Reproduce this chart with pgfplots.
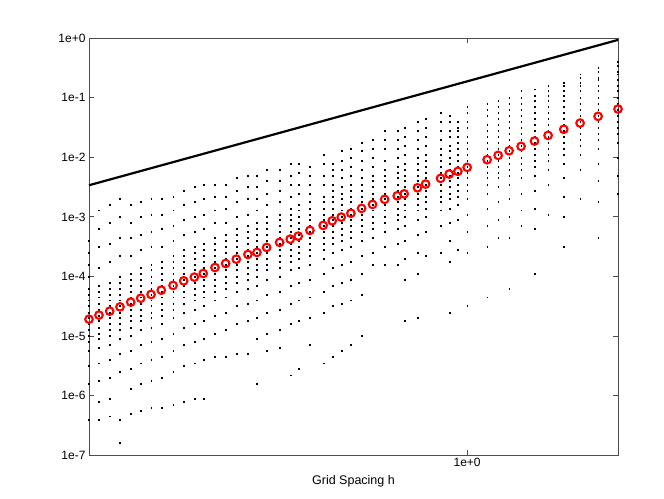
\documentclass[border=0pt]{standalone}
\usepackage{pgfplots}
\pgfplotsset{compat=1.18}
\usepackage{pgfplotstable}
\usepackage{fontspec}
\setmainfont{Liberation Sans}

% scatter of all runs: one row per grid spacing h
\pgfplotstableread{
h y1 y2 y3 y4 y5 y6 y7 y8 y9 y10 y11 y12 y13 y14 y15 y16 y17 y18 y19
0.1341 4e-4 2.5e-4 1.6e-4 1e-4 6.3e-5 5e-5 4e-5 3.2e-5 2.5e-5 2e-5 1.6e-5 1.3e-5 1e-5 7.9e-6 5.6e-6 3.2e-6 1.6e-6 nan 4e-7
0.1414 1.3e-3 6.3e-4 3.2e-4 1.4e-4 7.1e-5 5.6e-5 4.5e-5 3.5e-5 2.8e-5 2.2e-5 1.8e-5 1.4e-5 1.1e-5 8.9e-6 6.3e-6 3.5e-6 1.8e-6 7.9e-7 4e-7
0.1497 1.6e-3 7.9e-4 3.5e-4 1.8e-4 7.9e-5 6.3e-5 5e-5 4e-5 3.2e-5 2.5e-5 2e-5 1.6e-5 1.3e-5 1e-5 7.1e-6 4e-6 2e-6 8.9e-7 4.5e-7
0.1581 2e-3 1e-3 4.5e-4 2.2e-4 1e-4 7.9e-5 6.3e-5 5e-5 4e-5 3.2e-5 2.5e-5 2e-5 1.6e-5 1.3e-5 8.9e-6 5e-6 2.5e-6 4e-7 1.6e-7
0.1674 1.6e-3 7.9e-4 4.5e-4 2.2e-4 1.1e-4 8.9e-5 7.1e-5 5.6e-5 4.5e-5 3.5e-5 2.8e-5 2.2e-5 1.8e-5 1.4e-5 1e-5 5.6e-6 2.8e-6 1.3e-6 5e-7
0.1765 1.8e-3 1e-3 5e-4 2.8e-4 1.4e-4 1.1e-4 8.9e-5 7.1e-5 5.6e-5 4.5e-5 3.5e-5 2.8e-5 2.2e-5 1.8e-5 1.3e-5 7.1e-6 3.5e-6 1.6e-6 5.6e-7
0.1865 2e-3 1.1e-3 5.6e-4 3.2e-4 1.6e-4 1.3e-4 1e-4 7.9e-5 6.3e-5 5e-5 4e-5 3.2e-5 2.5e-5 2e-5 1.4e-5 7.9e-6 4e-6 1.8e-6 6.3e-7
0.1969 2e-3 1.1e-3 6.3e-4 3.2e-4 1.8e-4 1.4e-4 1.1e-4 8.9e-5 7.1e-5 5.6e-5 4.5e-5 3.5e-5 2.8e-5 2.2e-5 1.6e-5 8.9e-6 4.5e-6 2e-6 6.3e-7
0.2096 2.2e-3 1.3e-3 7.1e-4 4e-4 2.2e-4 1.8e-4 1.4e-4 1.1e-4 8.9e-5 7.1e-5 5.6e-5 4.5e-5 3.5e-5 2.8e-5 2e-5 1.1e-5 5.6e-6 2.5e-6 7.1e-7
0.2218 2.8e-3 1.6e-3 8.9e-4 5e-4 2.8e-4 2.2e-4 1.8e-4 1.4e-4 1.1e-4 8.9e-5 7.1e-5 5.6e-5 4.5e-5 3.5e-5 2.5e-5 1.4e-5 7.1e-6 3.2e-6 7.9e-7
0.2347 3.2e-3 1.8e-3 1e-3 5.6e-4 3.2e-4 2.5e-4 2e-4 1.6e-4 1.3e-4 1e-4 7.9e-5 6.3e-5 5e-5 4e-5 2.8e-5 1.6e-5 7.9e-6 3.5e-6 8.9e-7
0.2460 3.5e-3 2e-3 1.1e-3 6.3e-4 3.5e-4 2.8e-4 2.2e-4 1.8e-4 1.4e-4 1.1e-4 8.9e-5 7.1e-5 5.6e-5 4.5e-5 3.2e-5 1.8e-5 8.9e-6 4e-6 8.9e-7
0.2619 3.5e-3 2.2e-3 1.3e-3 7.9e-4 4.5e-4 3.5e-4 2.8e-4 2.2e-4 1.8e-4 1.4e-4 1.1e-4 8.9e-5 7.1e-5 5.6e-5 4e-5 2.2e-5 1.1e-5 nan 4.5e-6
0.2772 3.5e-3 2.2e-3 1.4e-3 7.9e-4 5e-4 4e-4 3.2e-4 2.5e-4 2e-4 1.6e-4 1.3e-4 1e-4 7.9e-5 6.3e-5 4.5e-5 2.5e-5 1.3e-5 nan 4.5e-6
0.2933 4.5e-3 2.8e-3 1.8e-3 1e-3 6.3e-4 5e-4 4e-4 3.2e-4 2.5e-4 2e-4 1.6e-4 1.3e-4 1e-4 7.9e-5 5.6e-5 3.2e-5 1.6e-5 nan 5e-6
0.3120 5e-3 3.2e-3 2e-3 1.1e-3 7.1e-4 5.6e-4 4.5e-4 3.5e-4 2.8e-4 2.2e-4 1.8e-4 1.4e-4 1.1e-4 8.9e-5 6.3e-5 3.5e-5 1.8e-5 nan 5e-6
0.3273 5e-3 3.2e-3 2e-3 1.3e-3 7.9e-4 6.3e-4 5e-4 4e-4 3.2e-4 2.5e-4 2e-4 1.6e-4 1.3e-4 1e-4 7.1e-5 4e-5 2e-5 8.9e-6 1.6e-6
0.3446 6.3e-3 4e-3 2.5e-3 1.6e-3 1e-3 7.9e-4 6.3e-4 5e-4 4e-4 3.2e-4 2.5e-4 2e-4 1.6e-4 1.3e-4 8.9e-5 5e-5 2.5e-5 1.1e-5 5.6e-6
0.3693 6.3e-3 4e-3 2.8e-3 1.8e-3 1.1e-3 8.9e-4 7.1e-4 5.6e-4 4.5e-4 3.5e-4 2.8e-4 2.2e-4 1.8e-4 1.4e-4 1e-4 5.6e-5 2.8e-5 1.3e-5 6.3e-6
0.3906 7.9e-3 5e-3 3.5e-3 2.2e-3 1.4e-3 1.1e-3 8.9e-4 7.1e-4 5.6e-4 4.5e-4 3.5e-4 2.8e-4 2.2e-4 1.8e-4 1.3e-4 7.1e-5 3.5e-5 1.6e-5 2.2e-6
0.4076 7.9e-3 5.6e-3 3.5e-3 2.5e-3 1.6e-3 1.3e-3 1e-3 7.9e-4 6.3e-4 5e-4 4e-4 3.2e-4 2.5e-4 2e-4 1.4e-4 7.9e-5 4e-5 1.8e-5 2.8e-6
0.4337 7.1e-3 5e-3 3.5e-3 2.5e-3 1.8e-3 1.4e-3 1.1e-3 8.9e-4 7.1e-4 5.6e-4 4.5e-4 3.5e-4 2.8e-4 2.2e-4 1.6e-4 8.9e-5 4.5e-5 2e-5 7.1e-6
0.4654 1.1e-2 7.9e-3 5e-3 3.5e-3 2.2e-3 1.8e-3 1.4e-3 1.1e-3 8.9e-4 7.1e-4 5.6e-4 4.5e-4 3.5e-4 2.8e-4 2e-4 1.1e-4 5.6e-5 2.5e-5 3.5e-6
0.4883 7.9e-3 6.3e-3 5e-3 3.5e-3 2.8e-3 2.2e-3 1.8e-3 1.4e-3 1.1e-3 8.9e-4 7.1e-4 5.6e-4 4.5e-4 3.5e-4 2.5e-4 1.4e-4 7.1e-5 3.2e-5 4.5e-6
0.5122 1.3e-2 8.9e-3 6.3e-3 4.5e-3 3.2e-3 2.5e-3 2e-3 1.6e-3 1.3e-3 1e-3 7.9e-4 6.3e-4 5e-4 4e-4 2.8e-4 1.6e-4 7.9e-5 3.5e-5 5.6e-6
0.5392 1.4e-2 1e-2 7.1e-3 5e-3 3.5e-3 2.8e-3 2.2e-3 1.8e-3 1.4e-3 1.1e-3 8.9e-4 7.1e-4 5.6e-4 4.5e-4 3.2e-4 1.8e-4 8.9e-5 4e-5 7.1e-6
0.5708 1.8e-2 1.3e-2 8.9e-3 6.3e-3 4.5e-3 3.5e-3 2.8e-3 2.2e-3 1.8e-3 1.4e-3 1.1e-3 8.9e-4 7.1e-4 5.6e-4 4e-4 2.2e-4 1.1e-4 5e-5 1e-5
0.6049 2e-2 1.4e-2 1e-2 7.1e-3 5e-3 4e-3 3.2e-3 2.5e-3 2e-3 1.6e-3 1.3e-3 1e-3 7.9e-4 6.3e-4 4.5e-4 2.5e-4 nan nan 1.6e-4
0.6451 2.8e-2 2e-2 1.4e-2 8.9e-3 6.3e-3 5e-3 4e-3 3.2e-3 2.5e-3 2e-3 1.6e-3 1.3e-3 1e-3 7.9e-4 5.6e-4 3.2e-4 nan nan 1.6e-4
0.6896 2.8e-2 2e-2 1.4e-2 1e-2 7.1e-3 5.6e-3 4.5e-3 3.5e-3 2.8e-3 2.2e-3 1.8e-3 1.4e-3 1.1e-3 8.9e-4 6.3e-4 3.5e-4 nan nan 1.6e-4
0.7157 3.2e-2 2.2e-2 1.6e-2 1.1e-2 7.9e-3 6.3e-3 5e-3 4e-3 3.2e-3 2.5e-3 2e-3 1.6e-3 1.3e-3 1e-3 7.1e-4 4e-4 2e-4 8.9e-5 1.8e-5
0.7683 4e-2 2.8e-2 2e-2 1.4e-2 1e-2 7.9e-3 6.3e-3 5e-3 4e-3 3.2e-3 2.5e-3 2e-3 1.6e-3 1.3e-3 8.9e-4 5e-4 2.5e-4 1.1e-4 2e-5
0.8019 4.5e-2 3.2e-2 2.2e-2 1.6e-2 1.1e-2 8.9e-3 7.1e-3 5.6e-3 4.5e-3 3.5e-3 2.8e-3 2.2e-3 1.8e-3 1.4e-3 1e-3 5.6e-4 nan nan 2.2e-4
0.8683 5.6e-2 4e-2 2.8e-2 2e-2 1.4e-2 1.1e-2 8.9e-3 7.1e-3 5.6e-3 4.5e-3 3.5e-3 2.8e-3 2.2e-3 1.8e-3 1.3e-3 7.1e-4 nan nan 2.5e-4
0.9089 5e-2 4e-2 2.8e-2 2.2e-2 1.6e-2 1.3e-2 1e-2 7.9e-3 6.3e-3 5e-3 4e-3 3.2e-3 2.5e-3 2e-3 1.4e-3 7.9e-4 4e-4 1.8e-4 2.5e-5
0.9519 4e-2 3.2e-2 2.8e-2 2.2e-2 1.8e-2 1.4e-2 1.1e-2 8.9e-3 7.1e-3 5.6e-3 4.5e-3 3.5e-3 2.8e-3 2.2e-3 1.6e-3 8.9e-4 nan nan 2.8e-4
1.0000 7.1e-2 5.6e-2 4e-2 3.2e-2 2.2e-2 1.8e-2 1.4e-2 1.1e-2 8.9e-3 7.1e-3 5.6e-3 4.5e-3 3.5e-3 2.8e-3 2e-3 1.1e-3 5.6e-4 2.5e-4 3.2e-5
1.1119 7.9e-2 6.3e-2 5e-2 3.5e-2 2.8e-2 2.2e-2 1.8e-2 1.4e-2 1.1e-2 8.9e-3 7.1e-3 5.6e-3 4.5e-3 3.5e-3 2.5e-3 1.4e-3 7.1e-4 3.2e-4 4.5e-5
1.1790 8.9e-2 7.1e-2 5.6e-2 4.5e-2 3.5e-2 2.8e-2 2.2e-2 1.8e-2 1.4e-2 1.1e-2 8.9e-3 7.1e-3 5.6e-3 4.5e-3 3.2e-3 1.8e-3 8.9e-4 nan 4.5e-4
1.2497 1e-1 7.9e-2 6.3e-2 5e-2 4e-2 3.2e-2 2.5e-2 2e-2 1.6e-2 1.3e-2 1e-2 7.9e-3 6.3e-3 5e-3 3.5e-3 2e-3 1e-3 4.5e-4 6.3e-5
1.3318 1.3e-1 1e-1 7.9e-2 6.3e-2 5e-2 4e-2 3.2e-2 2.5e-2 2e-2 1.6e-2 1.3e-2 1e-2 7.9e-3 6.3e-3 4.5e-3 2.5e-3 1.3e-3 nan 7.1e-4
1.4302 1.4e-1 1.1e-1 8.9e-2 7.1e-2 5.6e-2 4.5e-2 3.5e-2 2.8e-2 2.2e-2 1.8e-2 1.4e-2 1.1e-2 8.9e-3 7.1e-3 5e-3 2.8e-3 1.4e-3 6.3e-4 1.1e-4
1.5375 1.6e-1 1.3e-1 1.1e-1 8.9e-2 7.1e-2 5.6e-2 4.5e-2 3.5e-2 2.8e-2 2.2e-2 1.8e-2 1.4e-2 1.1e-2 8.9e-3 6.3e-3 3.5e-3 nan nan 1.1e-3
1.6711 1.8e-1 1.6e-1 1.3e-1 1.1e-1 8.9e-2 7.1e-2 5.6e-2 4.5e-2 3.5e-2 2.8e-2 2.2e-2 1.8e-2 1.4e-2 1.1e-2 7.9e-3 4.5e-3 2.2e-3 1e-3 3.2e-4
1.8223 2.5e-1 2.2e-1 1.8e-1 1.6e-1 1.3e-1 1e-1 7.9e-2 6.3e-2 5e-2 4e-2 3.2e-2 2.5e-2 2e-2 1.6e-2 1.1e-2 6.3e-3 nan nan 2e-3
2.0050 3.2e-1 2.8e-1 2.2e-1 2e-1 1.6e-1 1.3e-1 1e-1 7.9e-2 6.3e-2 5e-2 4e-2 3.2e-2 2.5e-2 2e-2 1.4e-2 7.9e-3 4e-3 1.8e-3 4.5e-4
2.2290 4e-1 3.5e-1 2.8e-1 2.5e-1 2e-1 1.6e-1 1.3e-1 1e-1 7.9e-2 6.3e-2 5e-2 4e-2 3.2e-2 2.5e-2 1.8e-2 1e-2 5e-3 nan 2.5e-3
}\errs

% mean error per h (red circles)
\pgfplotstableread{
h r
0.1341 1.91e-5
0.1414 2.24e-5
0.1497 2.61e-5
0.1581 3.08e-5
0.1674 3.70e-5
0.1765 4.31e-5
0.1865 4.98e-5
0.1969 5.88e-5
0.2096 7.06e-5
0.2218 8.43e-5
0.2347 9.73e-5
0.2460 1.12e-4
0.2619 1.41e-4
0.2772 1.65e-4
0.2933 1.95e-4
0.3120 2.34e-4
0.3273 2.53e-4
0.3446 3.07e-4
0.3693 3.73e-4
0.3906 4.23e-4
0.4076 4.75e-4
0.4337 5.93e-4
0.4654 7.19e-4
0.4883 8.60e-4
0.5122 9.93e-4
0.5392 1.15e-3
0.5708 1.39e-3
0.6049 1.62e-3
0.6451 1.97e-3
0.6896 2.26e-3
0.7157 2.44e-3
0.7683 3.08e-3
0.8019 3.56e-3
0.8683 4.44e-3
0.9089 5.24e-3
0.9519 5.82e-3
1.0000 6.79e-3
1.1119 9.12e-3
1.1790 1.08e-2
1.2497 1.29e-2
1.3318 1.53e-2
1.4302 1.88e-2
1.5375 2.34e-2
1.6711 2.96e-2
1.8223 3.77e-2
2.0050 4.89e-2
2.2290 6.48e-2
}\means

\begin{document}
\begin{tikzpicture}
\begin{axis}[
    at={(0,0)}, anchor=south west,
    scale only axis,
    width=529pt, height=416.7pt,
    xmode=log, ymode=log,
    xmin=0.1341, xmax=2.229,
    ymin=1e-7, ymax=1,
    xtick={1}, xticklabels={1e+0},
    ytick={1e-7,1e-6,1e-5,1e-4,1e-3,1e-2,1e-1,1},
    yticklabels={1e-7,1e-6,1e-5,1e-4,1e-3,1e-2,1e-1,1e+0},
    xminorticks=false, yminorticks=false,
    tick align=inside,
    major tick length=5pt,
    axis line style={black!70, line width=0.8pt},
    every tick/.style={black!70, line width=0.8pt},
    tick label style={font=\fontsize{12}{14}\selectfont},
    xlabel={Grid Spacing h},
    xlabel style={font=\fontsize{12.5}{14}\selectfont,
        at={(axis description cs:0.5,0)}, anchor=center, yshift=-26pt},
    clip=false,
]
\pgfplotsinvokeforeach{1,...,19}{
    \addplot[only marks, mark=square*, mark size=0.45pt, black,
        mark options={line width=0.2pt}] table[x=h, y=y#1] {\errs};
}
\addplot[black, line width=2.2pt] coordinates {(0.1341,3.4e-3) (2.229,0.94)};
\addplot[only marks, mark=o, mark size=3.8pt, red, line width=2.1pt] table[x=h, y=r] {\means};
\end{axis}
\pgfresetboundingbox
\path (-89pt,-43pt) rectangle (575pt,455pt);
\end{tikzpicture}
\end{document}
